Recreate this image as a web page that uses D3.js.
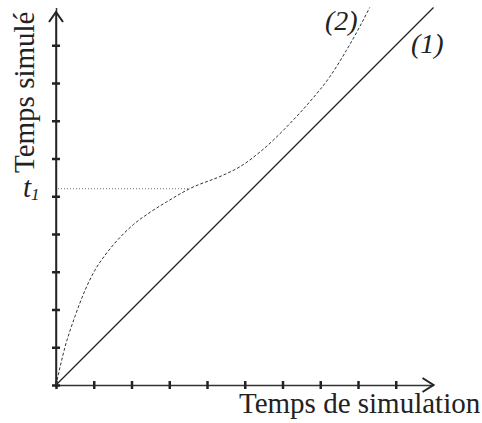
<!DOCTYPE html>
<html>
<head>
<meta charset="utf-8">
<script src="https://cdn.jsdelivr.net/npm/d3@7"></script>
<style>
  body { margin: 0; background: #fff; }
  text { font-family: "Liberation Serif", "Times New Roman", serif; fill: #222; }
</style>
</head>
<body>
<div id="chart"></div>
<script>
// values in axis units (1 unit = one tick)
var tickVals = [0, 1, 2, 3, 4, 5, 6, 7, 8, 9];
var line1X = [0, 10];
var line1Y = [0, 10];
var curve2X = [0, 0.24, 0.5, 0.77, 1.03, 1.3, 1.65, 2.05, 2.5, 2.93, 3.54, 4.43, 4.87, 5.4, 6.19, 6.72, 7.25, 7.69, 8.04, 8.31];
var curve2Y = [0, 1.01, 1.81, 2.51, 3.04, 3.44, 3.86, 4.25, 4.58, 4.85, 5.2, 5.56, 5.78, 6.17, 6.92, 7.5, 8.16, 8.86, 9.48, 10.0];
var t1Level = 5.2;
var t1End = 3.54;

var svgWidth = 482;
var svgHeight = 423;

var svg = d3.select("#chart")
    .append("svg")
    .attr("width", svgWidth)
    .attr("height", svgHeight);

var x = d3.scaleLinear().domain([0, 10]).range([56, 433.5]);
var y = d3.scaleLinear().domain([0, 10]).range([385, 7.5]);

// x axis
var gx = svg.append("g")
    .attr("transform", "translate(0," + y(0) + ")")
    .call(d3.axisBottom(x).tickValues(tickVals).tickFormat("").tickSizeOuter(0));
gx.select(".domain").attr("stroke", "#333").attr("stroke-width", 1.5);
gx.selectAll(".tick line").attr("y1", -4).attr("y2", 4)
    .attr("stroke", "#222").attr("stroke-width", 2.5);

// y axis
var gy = svg.append("g")
    .attr("transform", "translate(" + x(0) + ",0)")
    .call(d3.axisLeft(y).tickValues(tickVals).tickFormat("").tickSizeOuter(0));
gy.select(".domain").attr("stroke", "#333").attr("stroke-width", 1.5);
gy.selectAll(".tick line").attr("x1", -4).attr("x2", 4)
    .attr("stroke", "#222").attr("stroke-width", 2.5);

// axis extensions + arrow heads
svg.append("line")
    .attr("x1", x(0)).attr("y1", y(0)).attr("x2", x(0)).attr("y2", 12)
    .attr("stroke", "#222").attr("stroke-width", 1.5);
svg.append("path")
    .attr("d", "M" + (x(0) - 7) + ",22 L" + x(0) + ",12 L" + (x(0) + 7) + ",22")
    .attr("fill", "none").attr("stroke", "#222").attr("stroke-width", 2);
svg.append("path")
    .attr("d", "M" + (x(10) - 11) + "," + (y(0) - 7) + " L" + x(10) + "," + y(0) + " L" + (x(10) - 11) + "," + (y(0) + 7))
    .attr("fill", "none").attr("stroke", "#222").attr("stroke-width", 2);

// dotted t1 guide
svg.append("line")
    .attr("x1", x(0) + 2).attr("x2", x(t1End))
    .attr("y1", y(t1Level)).attr("y2", y(t1Level))
    .attr("stroke", "#777").attr("stroke-width", 1)
    .attr("stroke-dasharray", "1,2");

// line (1)
var line = d3.line()
    .x(function(d) { return x(d[0]); })
    .y(function(d) { return y(d[1]); });
svg.append("path")
    .attr("d", line(d3.zip(line1X, line1Y)))
    .attr("fill", "none").attr("stroke", "#222").attr("stroke-width", 1.3);

// curve (2)
var curve = d3.line()
    .x(function(d) { return x(d[0]); })
    .y(function(d) { return y(d[1]); })
    .curve(d3.curveMonotoneX);
svg.append("path")
    .attr("d", curve(d3.zip(curve2X, curve2Y)))
    .attr("fill", "none").attr("stroke", "#333").attr("stroke-width", 1)
    .attr("stroke-dasharray", "3,2");

// labels
svg.append("text")
    .attr("x", 239).attr("y", 413)
    .attr("font-size", 29)
    .text("Temps de simulation");

svg.append("text")
    .attr("transform", "translate(34,173) rotate(-90)")
    .attr("font-size", 29)
    .text("Temps simulé");

svg.append("text")
    .attr("x", 325).attr("y", 30)
    .attr("font-size", 28).attr("font-style", "italic")
    .text("(2)");

svg.append("text")
    .attr("x", 411).attr("y", 53)
    .attr("font-size", 28).attr("font-style", "italic")
    .text("(1)");

var t1 = svg.append("text")
    .attr("x", 23).attr("y", 197)
    .attr("font-size", 29).attr("font-style", "italic");
t1.append("tspan").text("t");
t1.append("tspan").attr("font-size", 17).attr("dy", 3).text("1");
</script>
</body>
</html>
